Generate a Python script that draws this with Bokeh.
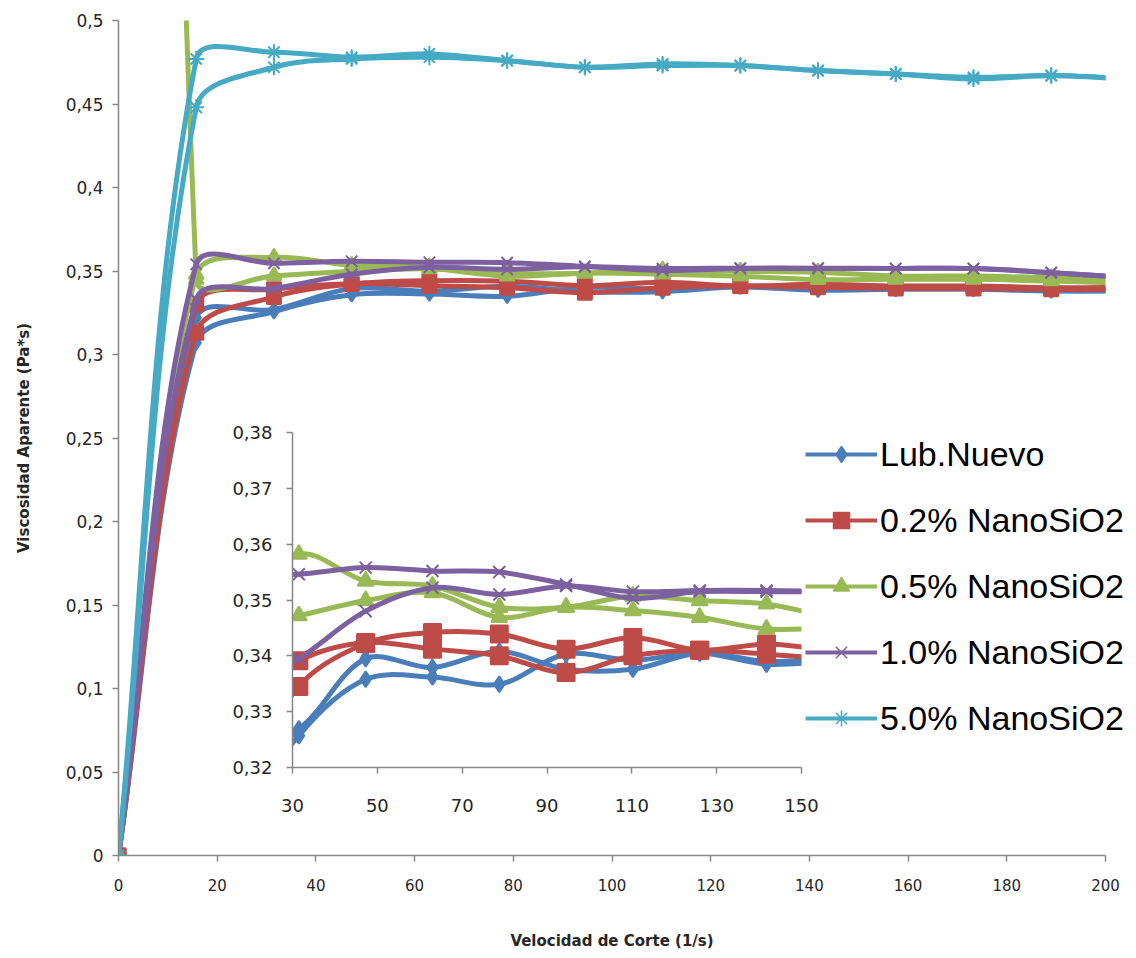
import numpy as np
from bokeh.plotting import figure
from bokeh.models import Range1d, FixedTicker, CustomJSTickFormatter, Legend, LegendItem, ColumnDataSource
from bokeh.embed import file_html
from bokeh.resources import INLINE

# ---------------- data ----------------
shear = [0, 15.75, 31.5, 47.25, 63, 78.75, 94.5, 110.25, 126, 141.75, 157.5, 173.25, 189, 204.75]

lub_up = [0, 0.307, 0.3257, 0.3358, 0.3362, 0.3349, 0.3403, 0.3392, 0.3405, 0.3385, 0.339, 0.339, 0.338, 0.338]
lub_down = [0, 0.322, 0.3269, 0.3395, 0.3379, 0.3408, 0.3376, 0.3376, 0.3405, 0.3390, 0.3395, 0.3395, 0.3385, 0.338]

si02_up = [0, 0.313, 0.3345, 0.3422, 0.3442, 0.3439, 0.3412, 0.3433, 0.341, 0.3421, 0.341, 0.341, 0.340, 0.340]
si02_down = [0, 0.330, 0.3391, 0.3424, 0.3412, 0.340, 0.337, 0.340, 0.341, 0.3403, 0.3395, 0.3395, 0.339, 0.339]

si05_up = [0, 0.348, 0.3582, 0.3534, 0.3525, 0.3487, 0.3487, 0.3507, 0.3499, 0.3493, 0.347, 0.347, 0.346, 0.345]
si05_down = [2.6, 0.345, 0.3472, 0.3499, 0.3513, 0.3469, 0.3487, 0.3481, 0.3469, 0.3448, 0.345, 0.345, 0.344, 0.343]

si10_up = [0, 0.333, 0.3395, 0.348, 0.3522, 0.351, 0.3525, 0.3515, 0.3517, 0.3517, 0.3515, 0.3515, 0.349, 0.346]
si10_down = [0, 0.354, 0.3546, 0.3558, 0.3552, 0.3550, 0.3528, 0.3503, 0.3515, 0.3515, 0.3515, 0.3515, 0.349, 0.346]

si50_up = [0, 0.448, 0.472, 0.477, 0.478, 0.476, 0.472, 0.474, 0.473, 0.470, 0.468, 0.465, 0.467, 0.465]
si50_down = [0, 0.477, 0.481, 0.478, 0.480, 0.476, 0.472, 0.473, 0.473, 0.470, 0.468, 0.466, 0.467, 0.465]

names = ["Lub.Nuevo", "0.2% NanoSiO2", "0.5% NanoSiO2", "1.0% NanoSiO2", "5.0% NanoSiO2"]
colors = ["#4A7EBB", "#BE4B48", "#98B954", "#7D60A0", "#46AAC5"]
markers = ["diamond", "square", "triangle", "x", "asterisk"]
ups = [lub_up, si02_up, si05_up, si10_up, si50_up]
downs = [lub_down, si02_down, si05_down, si10_down, si50_down]

main_x_ticks = [0, 20, 40, 60, 80, 100, 120, 140, 160, 180, 200]
main_y_ticks = [0, 0.05, 0.1, 0.15, 0.2, 0.25, 0.3, 0.35, 0.4, 0.45, 0.5]
inset_x_ticks = [30, 50, 70, 90, 110, 130, 150]
inset_y_ticks = [0.32, 0.33, 0.34, 0.35, 0.36, 0.37, 0.38]

AX = "#868686"
TXT = "#262626"
FMT = "return parseFloat(tick.toFixed(2)).toString().replace('.', ',');"


def smooth_segments(xs, ys, kx, ky):
    """Excel-like smoothed line: cubic bezier control points (chord-length weighted)."""
    P = np.column_stack([np.asarray(xs, float), np.asarray(ys, float)])
    S = P * np.array([kx, ky])
    n = len(P)

    def d(a, b):
        return float(np.hypot(*(S[a] - S[b])))

    out = {k: [] for k in ("x0", "y0", "x1", "y1", "cx0", "cy0", "cx1", "cy1")}
    for i in range(n - 1):
        a = i - 1 if i > 0 else i
        b = i + 2 if i + 2 < n else i + 1
        d01, d12, d23 = d(a, i), d(i, i + 1), d(i + 1, b)
        f1 = d12 / (d01 + d12) / 3 if d01 + d12 > 0 else 0
        f2 = d12 / (d12 + d23) / 3 if d12 + d23 > 0 else 0
        c1 = P[i] + (P[i + 1] - P[a]) * f1
        c2 = P[i + 1] - (P[b] - P[i]) * f2
        out["x0"].append(P[i][0]); out["y0"].append(P[i][1])
        out["x1"].append(P[i + 1][0]); out["y1"].append(P[i + 1][1])
        out["cx0"].append(c1[0]); out["cy0"].append(c1[1])
        out["cx1"].append(c2[0]); out["cy1"].append(c2[1])
    return out


def style_axes(fig, xt, yt, xsize, ysize, xstand, ystand):
    for ax in (fig.xaxis[0], fig.yaxis[0]):
        ax.axis_line_color = AX
        ax.axis_line_width = 1.5
        ax.major_tick_line_color = AX
        ax.major_tick_line_width = 1.5
        ax.major_tick_in = 0
        ax.major_tick_out = 6
        ax.minor_tick_line_color = None
        ax.major_label_text_color = TXT
        ax.major_label_text_font = "DejaVu Sans"
        ax.formatter = CustomJSTickFormatter(code=FMT)
    fig.xaxis[0].ticker = FixedTicker(ticks=xt)
    fig.yaxis[0].ticker = FixedTicker(ticks=yt)
    fig.xaxis[0].major_label_text_font_size = xsize
    fig.yaxis[0].major_label_text_font_size = ysize
    fig.xaxis[0].major_label_standoff = xstand
    fig.yaxis[0].major_label_standoff = ystand
    fig.xgrid.visible = False
    fig.ygrid.visible = False
    fig.outline_line_color = None


def draw_series(fig, kx, ky, lw, sizes):
    for col, mk, ms, up, dn in zip(colors, markers, sizes, ups, downs):
        xs = list(shear) + list(shear[::-1])
        ys = list(up) + list(dn[::-1])
        seg = smooth_segments(xs, ys, kx, ky)
        fig.bezier(x0="x0", y0="y0", x1="x1", y1="y1", cx0="cx0", cy0="cy0", cx1="cx1", cy1="cy1",
                   source=ColumnDataSource(seg), line_color=col, line_width=lw, line_cap="round")
        fig.scatter(xs, ys, marker=mk, size=ms, fill_color=col, line_color=col, line_width=2)


# ---------------- main figure ----------------
p = figure(width=1120, height=952, output_backend="svg", toolbar_location=None,
           x_range=Range1d(0, 200), y_range=Range1d(0, 0.5),
           min_border_left=118, min_border_right=15, min_border_top=20, min_border_bottom=95)
style_axes(p, main_x_ticks, main_y_ticks, "15px", "17px", 17, 9)
p.xaxis.axis_label = "Velocidad de Corte (1/s)"
p.yaxis.axis_label = "Viscosidad Aparente (Pa*s)"
for ax in (p.xaxis[0], p.yaxis[0]):
    ax.axis_label_text_font = "DejaVu Sans"
    ax.axis_label_text_font_style = "bold"
    ax.axis_label_text_font_size = "15px"
    ax.axis_label_text_color = TXT
p.xaxis.axis_label_standoff = 38
p.yaxis.axis_label_standoff = 30
draw_series(p, 4.935, 1674, 5, [14, 14, 15, 16, 16])

# ---------------- inset figure ----------------
q = figure(width=599, height=410, output_backend="svg", toolbar_location=None,
           x_range=Range1d(30, 150), y_range=Range1d(0.32, 0.38),
           min_border_left=70, min_border_right=20, min_border_top=10, min_border_bottom=65,
           styles={"position": "absolute", "left": "222px", "top": "422px"})
q.background_fill_alpha = 0
q.border_fill_alpha = 0
style_axes(q, inset_x_ticks, inset_y_ticks, "18px", "18px", 25, 14)
draw_series(q, 4.24, 5583, 5, [16, 17, 16, 17, 17])

# ---------------- legend panel ----------------
r = figure(width=339, height=330, output_backend="svg", toolbar_location=None,
           x_range=Range1d(0, 1), y_range=Range1d(0, 1),
           x_axis_location=None, y_axis_location=None,
           min_border_left=0, min_border_right=0, min_border_top=0, min_border_bottom=0,
           styles={"position": "absolute", "left": "795px", "top": "420px"})
r.background_fill_alpha = 0
r.border_fill_alpha = 0
r.outline_line_color = None
r.xgrid.visible = False
r.ygrid.visible = False
items = []
for name, col, mk, ms in zip(names, colors, markers, [12, 12, 13, 13, 13]):
    ln = r.line([-5, -4], [-5, -4], line_color=col, line_width=4)
    sc = r.scatter([-5], [-5], marker=mk, size=ms, fill_color=col, line_color=col, line_width=1.5)
    items.append(LegendItem(label=name, renderers=[ln, sc]))
leg = Legend(items=items, location=(10, 12), padding=0, margin=0, spacing=26,
             glyph_width=72, glyph_height=40, label_height=40, label_standoff=3,
             label_text_font="Liberation Sans", label_text_font_size="34px",
             label_text_color="black", border_line_color=None, background_fill_alpha=0)
r.add_layout(leg)

open("out.html", "w").write(file_html([p, q, r], INLINE))
